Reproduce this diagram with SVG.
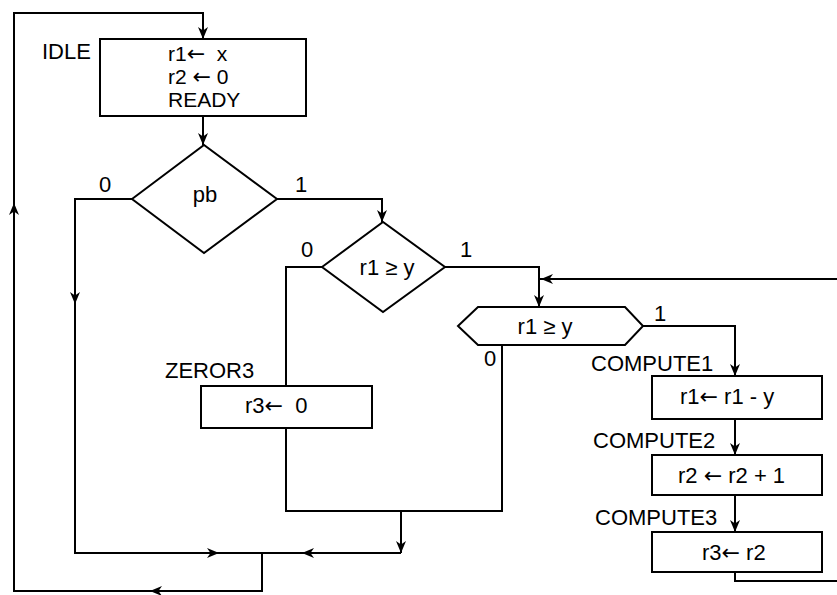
<svg xmlns="http://www.w3.org/2000/svg" xmlns:xlink="http://www.w3.org/1999/xlink" width="837" height="595" viewBox="0 0 837 595">
<style>
  .box{fill:#fff;stroke:#000;stroke-width:2}
  .ln{fill:none;stroke:#000;stroke-width:2;stroke-linejoin:miter}
  .t{font-family:"Liberation Sans",Arial,sans-serif;font-size:22px;fill:#000}
  .b{font-size:21px}
  .c{text-anchor:middle}
  .ar{font-family:"DejaVu Sans",sans-serif;font-size:22px}
</style>
<defs>
  <path id="ah" d="M0,0 L-12,-5 L-8.5,0 L-12,5 Z" fill="#000"/>
</defs>
<rect width="837" height="595" fill="#fff"/>

<g id="connectors">
  <polyline class="ln" points="262,553 262,591 14,591 14,13 203,13 203,39"/>
  <use xlink:href="#ah" transform="translate(150,591) rotate(180)"/>
  <use xlink:href="#ah" transform="translate(14,203) rotate(-90)"/>
  <use xlink:href="#ah" transform="translate(203,39) rotate(90)"/>

  <line class="ln" x1="203" y1="116" x2="203" y2="145"/>
  <use xlink:href="#ah" transform="translate(203,145) rotate(90)"/>

  <polyline class="ln" points="132,199 75,199 75,553 401,553"/>
  <use xlink:href="#ah" transform="translate(75,304) rotate(90)"/>
  <use xlink:href="#ah" transform="translate(219,553)"/>

  <polyline class="ln" points="277,199 382,199 382,222"/>
  <use xlink:href="#ah" transform="translate(382,222) rotate(90)"/>

  <polyline class="ln" points="322,267 286,267 286,386"/>

  <polyline class="ln" points="286,428 286,511 502,511 502,345"/>
  <line class="ln" x1="401" y1="511" x2="401" y2="553"/>
  <use xlink:href="#ah" transform="translate(401,553) rotate(90)"/>
  <use xlink:href="#ah" transform="translate(302,553) rotate(180)"/>

  <polyline class="ln" points="445,267 539,267 539,307"/>
  <use xlink:href="#ah" transform="translate(539,307) rotate(90)"/>
  <line class="ln" x1="837" y1="279" x2="539" y2="279"/>
  <use xlink:href="#ah" transform="translate(541,279) rotate(180)"/>

  <polyline class="ln" points="643,326 735,326 735,376"/>
  <use xlink:href="#ah" transform="translate(735,376) rotate(90)"/>

  <line class="ln" x1="735" y1="419" x2="735" y2="455"/>
  <use xlink:href="#ah" transform="translate(735,455) rotate(90)"/>
  <line class="ln" x1="735" y1="495" x2="735" y2="532"/>
  <use xlink:href="#ah" transform="translate(735,532) rotate(90)"/>

  <polyline class="ln" points="735,572 735,581 837,581"/>
</g>

<g id="idle">
  <rect class="box" x="100" y="39" width="206" height="77"/>
  <text class="t" x="42" y="59">IDLE</text>
  <text class="t b" x="168" y="61">r1<tspan class="ar b">←</tspan>&#160; x</text>
  <text class="t b" x="168" y="84">r2 <tspan class="ar b">←</tspan> 0</text>
  <text class="t b" x="168" y="107">READY</text>
</g>

<g id="pb">
  <polygon class="box" points="132,199 204,145 277,199 204,253"/>
  <text class="t c" x="205" y="202">pb</text>
  <text class="t c" x="105" y="192">0</text>
  <text class="t c" x="301" y="192">1</text>
</g>

<g id="cmp1">
  <polygon class="box" points="322,267 383,222 445,267 383,312"/>
  <text class="t c" x="387" y="275">r1 ≥ y</text>
  <text class="t c" x="307" y="257">0</text>
  <text class="t c" x="466" y="257">1</text>
</g>

<g id="zeror3">
  <rect class="box" x="201" y="386" width="171" height="42"/>
  <text class="t" x="165" y="378">ZEROR3</text>
  <text class="t" x="245" y="413">r3<tspan class="ar">←</tspan>&#160; 0</text>
</g>

<g id="cmp2">
  <polygon class="box" points="458,326 478,307 625,307 643,326 625,345 478,345"/>
  <text class="t c" x="545" y="334">r1 ≥ y</text>
  <text class="t c" x="660" y="321">1</text>
  <text class="t c" x="490" y="366">0</text>
</g>

<g id="compute1">
  <rect class="box" x="652" y="376" width="170" height="43"/>
  <text class="t" x="591" y="371">COMPUTE1</text>
  <text class="t" x="680" y="404">r1<tspan class="ar">←</tspan> r1 - y</text>
</g>

<g id="compute2">
  <rect class="box" x="652" y="455" width="170" height="40"/>
  <text class="t" x="593" y="448">COMPUTE2</text>
  <text class="t" x="678" y="483">r2 <tspan class="ar">←</tspan> r2 + 1</text>
</g>

<g id="compute3">
  <rect class="box" x="652" y="532" width="170" height="40"/>
  <text class="t" x="595" y="525">COMPUTE3</text>
  <text class="t" x="702" y="560">r3<tspan class="ar">←</tspan> r2</text>
</g>
</svg>
